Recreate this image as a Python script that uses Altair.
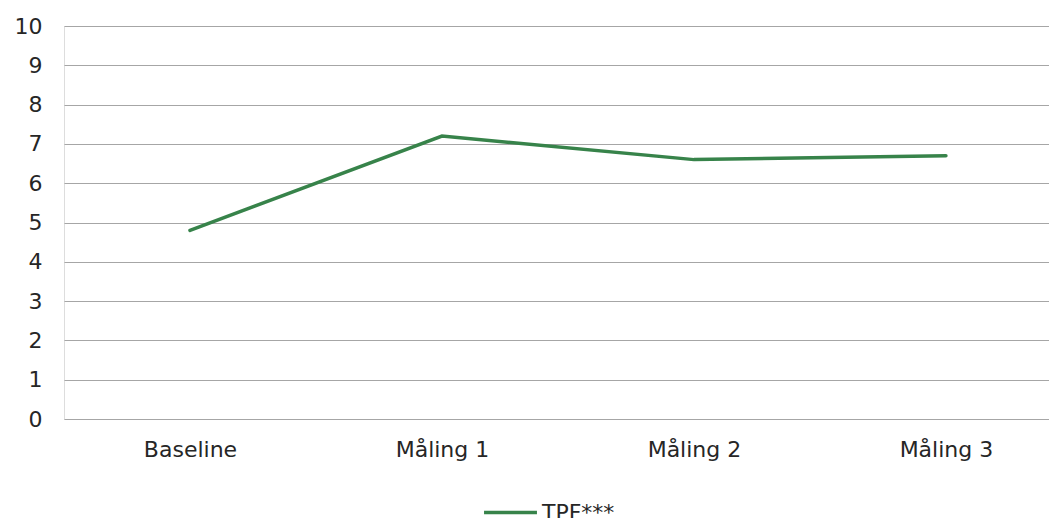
import altair as alt
import pandas as pd

categories = ["Baseline", "Måling 1", "Måling 2", "Måling 3"]
values = [4.8, 7.2, 6.6, 6.7]
series = "TPF***"

df = pd.DataFrame({
    "idx": list(range(len(categories))),
    "cat": categories,
    "val": values,
    "series": [series] * len(categories),
})

FONT = "DejaVu Sans"
FS = 22
TXT = "#262626"
label_expr = "[" + ",".join("'%s'" % c for c in categories) + "][datum.value]"

chart = alt.Chart(df).mark_line(strokeWidth=3.5, strokeCap="round").encode(
    x=alt.X("idx:Q",
            scale=alt.Scale(domain=[-0.5, 3.409], nice=False, zero=False),
            axis=alt.Axis(title=None, values=[0, 1, 2, 3], labelExpr=label_expr,
                          ticks=False, domain=False, grid=False,
                          labelFontSize=FS, labelColor=TXT, labelPadding=20, labelFont=FONT)),
    y=alt.Y("val:Q", scale=alt.Scale(domain=[0, 10], nice=False),
            axis=alt.Axis(title=None, values=list(range(0, 11)), ticks=False, domain=False,
                          gridColor="#a6a6a6", gridWidth=1.2, labelFontSize=FS, labelColor=TXT,
                          labelPadding=22, labelFont=FONT)),
    color=alt.Color("series:N", scale=alt.Scale(range=["#37834a"]),
                    legend=alt.Legend(title=None, orient="none", legendX=418, legendY=458,
                                      symbolType="stroke",
                                      symbolSize=2800, symbolStrokeWidth=3.5,
                                      labelFontSize=FS, labelFont=FONT, labelColor=TXT,
                                      labelOffset=3)),
    tooltip=["cat:N", "val:Q"],
).properties(
    width=985, height=393,
    padding={"left": 56, "top": 18, "right": 0, "bottom": 110},
    autosize=alt.AutoSizeParams(type="none"),
).configure_view(stroke=None).configure(background="white")

chart.save("out.html", embed_options={"renderer": "svg", "actions": False})
